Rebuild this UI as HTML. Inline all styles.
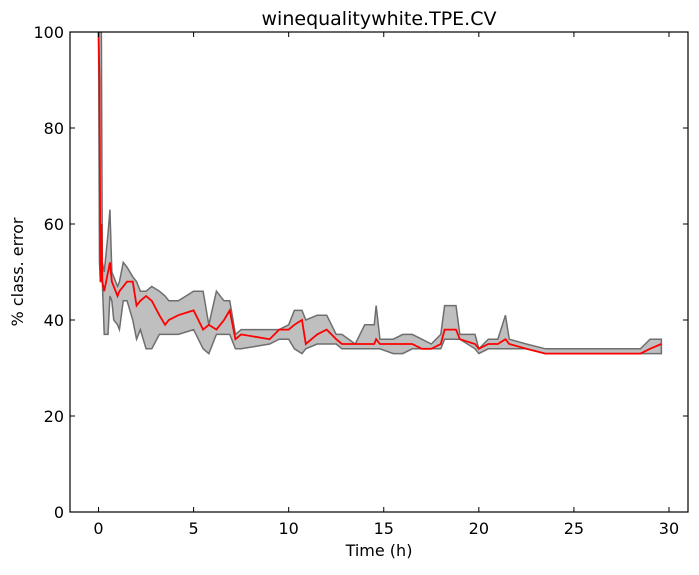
<!DOCTYPE html>
<html><head><meta charset="utf-8"><style>
body{margin:0;background:#fff;}
svg{font-family:"DejaVu Sans","Liberation Sans",sans-serif;}
</style></head><body>
<svg id="chart" width="699" height="570" xmlns="http://www.w3.org/2000/svg"></svg>
<script>
const times=[0,0.05,0.1,0.15,0.2,0.3,0.5,0.6,0.7,0.8,1.0,1.1,1.3,1.5,1.8,2.0,2.2,2.5,2.8,3.2,3.5,3.7,4.2,5.0,5.5,5.8,6.2,6.6,6.9,7.2,7.5,9.0,9.5,10.0,10.3,10.7,10.9,11.5,12.0,12.5,12.8,13.5,14.0,14.5,14.6,14.8,15.5,16.0,16.5,17.0,17.5,18.0,18.2,18.8,19.0,19.8,20.0,20.5,21.0,21.4,21.6,22.5,23.5,24.5,26.5,28.5,29.0,29.6];
const meanErr=[100,90,48,60,48,46,50,52,48,47,45,46,47,48,48,43,44,45,44,41,39,40,41,42,38,39,38,40,42,36,37,36,38,38,39,40,35,37,38,36,35,35,35,35,36,35,35,35,35,34,34,35,38,38,36,35,34,35,35,36,35,34,33,33,33,33,34,35];
const lowErr=[100,52,48,48,48,37,37,45,44,40,39,38,44,44,40,36,38,34,34,37,37,37,37,38,34,33,37,37,37,34,34,35,36,36,34,33,34,35,35,35,34,34,34,34,34,34,33,33,34,34,34,34,36,36,36,34,33,34,34,34,34,34,33,33,33,33,33,33];
const highErr=[100,100,100,100,52,50,58,63,50,49,47,48,52,51,49,48,46,46,47,46,45,44,44,46,46,39,46,44,44,37,38,38,38,39,42,42,40,41,41,37,37,35,39,39,43,36,36,37,37,36,35,37,43,43,37,37,34,36,36,41,36,35,34,34,34,34,36,36];
const xTicks=[0,5,10,15,20,25,30];
const yTicks=[0,20,40,60,80,100];
const L=70,R=688,T=32,B=512,xmin=-1.5,xmax=31,ymin=0,ymax=100;
const sx=v=>L+(v-xmin)/(xmax-xmin)*(R-L);
const sy=v=>B-(v-ymin)/(ymax-ymin)*(B-T);
const svg=document.getElementById('chart');
const NS='http://www.w3.org/2000/svg';
function mk(tag,attrs,parent){const e=document.createElementNS(NS,tag);for(const k in attrs)e.setAttribute(k,attrs[k]);(parent||svg).appendChild(e);return e;}
const defs=mk('defs',{});const cp=mk('clipPath',{id:'clip'},defs);mk('rect',{x:L,y:T,width:R-L,height:B-T},cp);
const g=mk('g',{'clip-path':'url(#clip)'});
let d='M'+times.map((t,i)=>sx(t)+','+sy(highErr[i])).join('L');
for(let i=times.length-1;i>=0;i--)d+='L'+sx(times[i])+','+sy(lowErr[i]);
const band=mk('path',{d:d+'Z',fill:'#bfbfbf',stroke:'#6e6e6e','stroke-width':1.5},g);


const line=mk('polyline',{points:times.map((t,i)=>sx(t)+','+sy(meanErr[i])).join(' '),fill:'none',stroke:'#ff0000','stroke-width':1.8},g);


mk('rect',{x:L,y:T,width:R-L,height:B-T,fill:'none',stroke:'#000','stroke-width':1.2});
xTicks.forEach(v=>{const x=sx(v);
mk('line',{x1:x,x2:x,y1:B,y2:B-5,stroke:'#000'});mk('line',{x1:x,x2:x,y1:T,y2:T+5,stroke:'#000'});
const t=mk('text',{x:x,y:B+22,'text-anchor':'middle','font-size':16});t.textContent=v;

});
yTicks.forEach(v=>{const y=sy(v);
mk('line',{x1:L,x2:L+5,y1:y,y2:y,stroke:'#000'});mk('line',{x1:R,x2:R-5,y1:y,y2:y,stroke:'#000'});
const t=mk('text',{x:L-6,y:y+6,'text-anchor':'end','font-size':16});t.textContent=v;

});
const xt=mk('text',{x:(L+R)/2,y:556,'text-anchor':'middle','font-size':16});xt.textContent='Time (h)';


const yt=mk('text',{x:0,y:0,'text-anchor':'middle','font-size':16,transform:'translate(23,272) rotate(-90)'});yt.textContent='% class. error';


const ti=mk('text',{x:(L+R)/2,y:25,'text-anchor':'middle','font-size':19});ti.textContent='winequalitywhite.TPE.CV';


</script>
</body></html>
